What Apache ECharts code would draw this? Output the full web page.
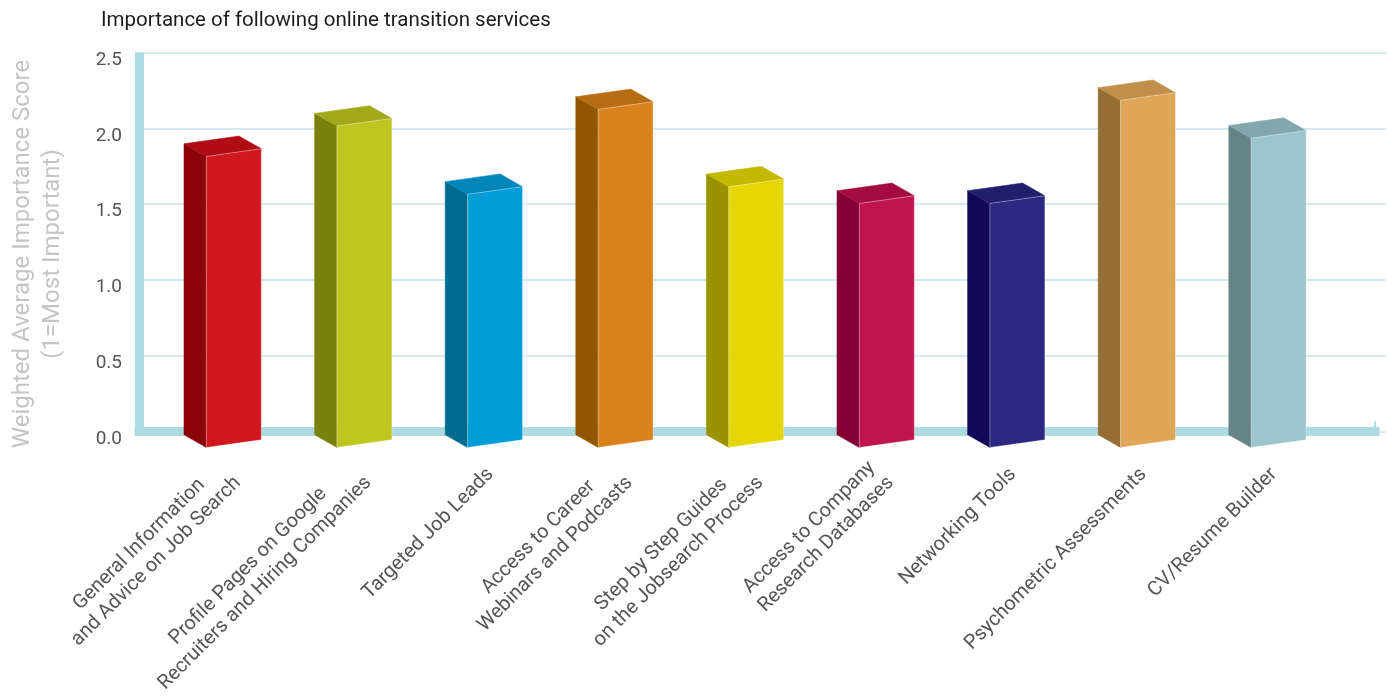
<!DOCTYPE html>
<html>
<head>
<meta charset="utf-8">
<script src="https://cdn.jsdelivr.net/npm/echarts@6/dist/echarts.min.js"></script>
<style>
  html, body { margin: 0; padding: 0; background: #ffffff; }
  #chart { width: 1388px; height: 699px; }
</style>
</head>
<body>
<div id="chart"></div>
<script>
// Services rated, in display order
const categories = [
  'General Information\nand Advice on Job Search',
  'Profile Pages on Google\nRecruiters and Hiring Companies',
  'Targeted Job Leads',
  'Access to Career\nWebinars and Podcasts',
  'Step by Step Guides\non the Jobsearch Process',
  'Access to Company\nResearch Databases',
  'Networking Tools',
  'Psychometric Assessments',
  'CV/Resume Builder'
];

// Weighted average importance score per service
const scores = [1.92, 2.12, 1.67, 2.23, 1.72, 1.61, 1.61, 2.29, 2.04];

// Value axis ticks
const yMin = 0;
const yMax = 2.5;
const yStep = 0.5;

// Face colours of each prism: front, left side, top
const frontColors = ['#d1181f', '#bec71f', '#009dd6', '#d9821b', '#e5d600', '#c0144f', '#2a2880', '#e0a657', '#9dc6cc'];
const sideColors  = ['#8c0007', '#7a810c', '#006a8f', '#925600', '#9a9300', '#820033', '#12095a', '#946e35', '#668487'];
const topColors   = ['#b10c16', '#a1a91a', '#0086b8', '#b86d14', '#c5b800', '#a40c41', '#201f6d', '#c08f4b', '#82a8ad'];

const AXIS_COLOR = '#aedbe0';
const GRID_COLOR = '#d3ebee';
const FONT = 'Roboto, "Noto Sans", sans-serif';

const gridTop = 52.5;
const gridBottom = 267.5;

// Draws one bar as a small oblique prism (left side + top + front face)
function renderPrism(params, api) {
  const i = params.dataIndex;
  const topPt = api.coord([api.value(0), api.value(1)]);
  const basePt = api.coord([api.value(0), yMin]);
  const band = api.size([1, 0])[0];

  const x0 = topPt[0] - band * 0.176;
  const x1 = x0 + band * 0.421;
  const dx = -band * 0.171;
  const dy = -12.7;
  const drop = 16;
  const slant = 7.7;

  const yb0 = basePt[1] + drop;
  const yb1 = yb0 - slant;
  const yt0 = topPt[1] + drop;
  const yt1 = yt0 - slant;

  const side = [[x0, yb0], [x0, yt0], [x0 + dx, yt0 + dy], [x0 + dx, yb0 + dy]];
  const lid = [[x0, yt0], [x1, yt1], [x1 + dx, yt1 + dy], [x0 + dx, yt0 + dy]];
  const front = [[x0, yb0], [x1, yb1], [x1, yt1], [x0, yt0]];

  return {
    type: 'group',
    children: [
      { type: 'polygon', shape: { points: side },
        style: { fill: sideColors[i], stroke: sideColors[i], lineWidth: 0.5 } },
      { type: 'polygon', shape: { points: lid },
        style: { fill: topColors[i], stroke: topColors[i], lineWidth: 0.5 } },
      { type: 'polygon', shape: { points: front },
        style: { fill: frontColors[i], stroke: 'rgba(255,255,255,0.35)', lineWidth: 1 } }
    ]
  };
}

const chart = echarts.init(document.getElementById('chart'), null, { renderer: 'canvas' });

chart.setOption({
  backgroundColor: '#ffffff',
  animation: false,
  title: {
    text: 'Importance of following online transition services',
    left: 96,
    top: 5,
    textStyle: { fontFamily: FONT, fontSize: 20.5, fontWeight: 'normal', color: '#1c1c1c' }
  },
  grid: [
    // axes frame, value labels and axis title
    { left: 137.5, right: 13, top: gridTop, bottom: gridBottom },
    // bars
    { left: 164, right: 48.6, top: gridTop, bottom: gridBottom },
    // horizontal guide lines
    { left: 137.5, right: 2, top: gridTop, bottom: gridBottom }
  ],
  xAxis: [
    {
      gridIndex: 0, type: 'category', data: ['', ''], boundaryGap: false,
      axisLine: { show: true, lineStyle: { color: AXIS_COLOR, width: 9, cap: 'square' } },
      axisTick: { show: true, inside: true, length: 10, lineStyle: { color: AXIS_COLOR, width: 2 } },
      axisLabel: { show: false },
      splitLine: { show: false },
      z: 1
    },
    {
      gridIndex: 1, type: 'category', data: categories,
      axisLine: { show: false },
      axisTick: { show: false },
      axisLabel: {
        interval: 0,
        rotate: 45,
        margin: 40,
        hideOverlap: false,
        formatter: function (val) {
          return val.split('\n').map(function (s) { return '{c|' + s + '}'; }).join('\n');
        },
        rich: {
          c: { align: 'center', fontFamily: FONT, fontSize: 20, lineHeight: 24, color: '#555555' }
        }
      }
    },
    {
      gridIndex: 2, type: 'value', show: false
    }
  ],
  yAxis: [
    {
      gridIndex: 0, type: 'value', min: yMin, max: yMax, interval: yStep,
      axisLine: { show: true, lineStyle: { color: AXIS_COLOR, width: 9, cap: 'butt' } },
      axisTick: { show: false },
      splitLine: { show: false },
      axisLabel: {
        margin: 17,
        fontFamily: FONT, fontSize: 19, color: '#555555',
        verticalAlign: 'top',
        lineHeight: 15,
        formatter: function (v) { return v.toFixed(1); }
      },
      name: 'Weighted Average Importance Score\n(1=Most Important)',
      nameLocation: 'middle',
      nameRotate: 90,
      nameGap: 71,
      nameTextStyle: {
        fontFamily: FONT, fontSize: 24, lineHeight: 30, color: '#c4c4c4',
        padding: [0, 24, 0, 0]
      },
      z: 1
    },
    {
      gridIndex: 1, type: 'value', min: yMin, max: yMax, interval: yStep, show: false
    },
    {
      gridIndex: 2, type: 'value', min: yMin, max: yMax, interval: yStep,
      axisLine: { show: false }, axisTick: { show: false }, axisLabel: { show: false },
      splitLine: { show: true, lineStyle: { color: GRID_COLOR, width: 2 } },
      z: 0
    }
  ],
  series: [
    {
      type: 'custom',
      xAxisIndex: 1,
      yAxisIndex: 1,
      renderItem: renderPrism,
      encode: { x: 0, y: 1 },
      data: scores.map(function (v, i) { return [i, v]; }),
      z: 5
    }
  ]
});
</script>
</body>
</html>
